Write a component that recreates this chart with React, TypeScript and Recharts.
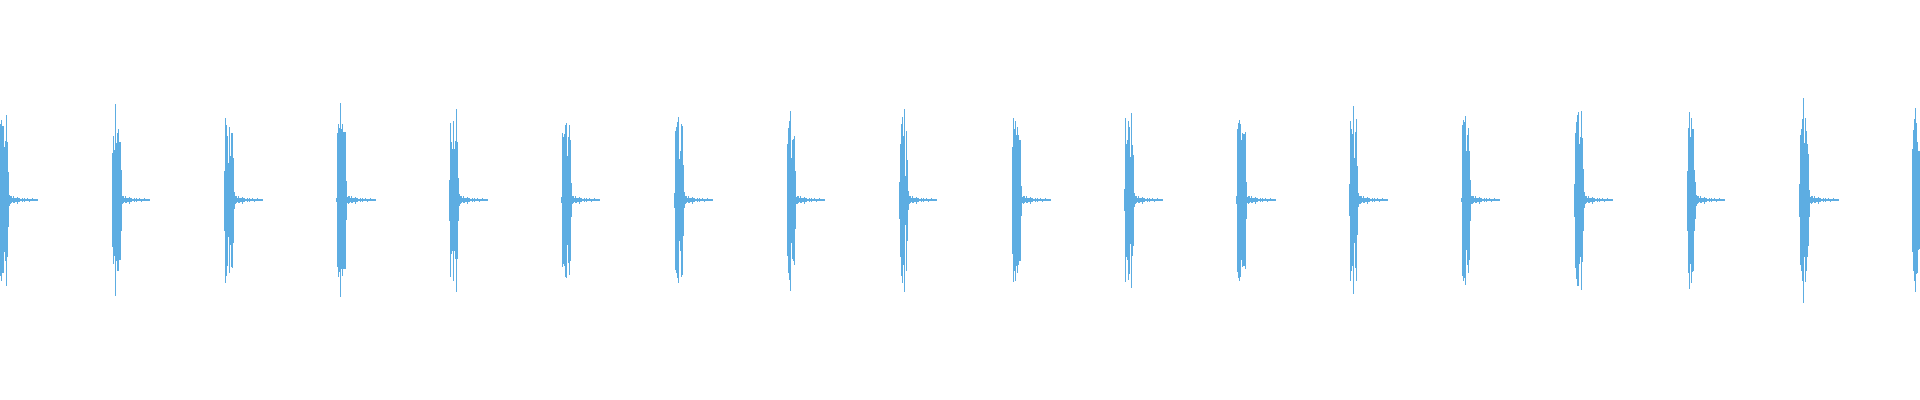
import React from 'react';
import { BarChart, Bar, XAxis, YAxis } from 'recharts';

// waveform: one sample column per pixel, amplitude in % of full scale
const SAMPLE_COUNT = 1920;
const WAVE_COLOR = '#5dade2';

// column where each click/burst begins
const BURST_STARTS = [0, 112, 224, 336, 449, 561, 674, 787, 899, 1012, 1124, 1236, 1349, 1461, 1574, 1687, 1799, 1912];

// positive peaks of each burst body
const BURST_TOPS = [
  [38, 40, 37, 37, 26.5, 29.5, 42.5, 29, 14, 2.5],
  [23.5, 32, 25, 48, 28.5, 33.5, 35.5, 29, 29, 15],
  [14.5, 41, 37.5, 32, 18.5, 36.5, 22, 33.5, 33.5, 21, 4],
  [1, 33.5, 38, 36, 48.5, 35.5, 38, 34, 34, 34, 9.5, 1.5],
  [10, 38.5, 29, 25.5, 39.5, 25.5, 29.5, 45.5, 29, 11, 3],
  [1.5, 33.5, 31.5, 33, 37.5, 38.5, 22, 31.5, 37.5, 30, 8.5],
  [3.5, 34.5, 36.5, 39, 41.5, 20.5, 24.5, 38, 37, 17.5, 4],
  [28, 36, 39.5, 44.5, 21, 30, 30.5, 32, 14.5, 1.5],
  [9, 28, 38, 41.5, 32, 45.5, 12, 34.5, 20, 4.5],
  [26.5, 41, 35.5, 39.5, 32.5, 36.5, 32.5, 30, 30, 7, 1.5],
  [5.5, 41, 28, 30, 39.5, 36.5, 21.5, 43.5, 27.5, 22.5, 3.5],
  [2, 35.5, 38.5, 40, 38, 30, 33.5, 33, 33, 34, 9, 1.5],
  [8, 39.5, 35.5, 33, 47, 21, 34, 40.5, 17, 3.5, 2],
  [1, 37.5, 40, 39, 42, 24.5, 32.5, 36, 24.5, 10, 2],
  [8, 33.5, 39, 42.5, 44, 28, 31.5, 44.5, 31, 15.5, 4],
  [14.5, 36, 44, 31.5, 41, 35.5, 35.5, 15, 9, 2.5],
  [8, 32.5, 35.5, 40.5, 51, 28.5, 41, 34.5, 28, 23, 5, 1.5],
  [25.5, 35, 40.5, 46, 38.5, 29, 24.5, 24.5],
];

// negative peaks of each burst body (magnitude)
const BURST_BOTTOMS = [
  [38, 40.5, 36.5, 36.5, 26, 30.5, 43, 28.5, 13.5, 3],
  [23.5, 32, 28, 48, 30.5, 35.5, 35.5, 30, 30, 15.5],
  [15.5, 41.5, 38, 33, 18.5, 36.5, 22.5, 33.5, 34, 21.5, 4.5],
  [1, 33.5, 38.5, 36, 48.5, 34.5, 38, 34.5, 34.5, 34.5, 10, 1.5],
  [10.5, 38.5, 27, 25.5, 40.5, 25.5, 29.5, 46, 29.5, 10.5, 3],
  [1.5, 33.5, 32, 33, 38.5, 39, 22.5, 31.5, 37.5, 30.5, 8.5],
  [4, 35, 36.5, 39, 41.5, 20.5, 25.5, 38.5, 37.5, 18, 4],
  [28, 36.5, 40, 45.5, 21.5, 29.5, 30.5, 32.5, 14.5, 2],
  [9.5, 28.5, 38, 41.5, 32.5, 46, 12.5, 35.5, 20.5, 5],
  [27, 41, 35.5, 40.5, 33, 36.5, 32.5, 30.5, 30.5, 8, 1.5],
  [5.5, 41, 28.5, 30, 40, 37, 22, 44, 28, 23, 3.5],
  [2, 36, 39, 40.5, 38.5, 30, 33.5, 33, 33, 34.5, 9.5, 1.5],
  [8, 40.5, 35.5, 33, 47, 21.5, 34, 40.5, 17.5, 3.5, 2],
  [1, 38, 40.5, 39, 42.5, 25, 32.5, 36.5, 30, 10.5, 2],
  [8.5, 34, 39.5, 43, 43, 32, 28.5, 45, 31, 15.5, 4],
  [15.5, 36.5, 44.5, 32, 41.5, 36, 35.5, 15.5, 9.5, 3],
  [8.5, 32.5, 35.5, 40.5, 51.5, 28.5, 41, 35.5, 28.5, 23, 8.5, 1.5],
  [26, 35.5, 40.5, 46, 37, 36.5, 25, 24.5],
];

// decaying ring after every burst
const TAIL_TOP = [2.2, 1.8, 1.2, 1.8, 1.2, 1, 1, 1.5, 0.8, 1, 0.5, 0.5, 0.8, 0.5, 1, 0.5, 0.5, 0.8, 0.5, 0.5, 0.5, 0.5, 0.8, 0.5, 0.5, 0.5, 0.5, 0.5];
const TAIL_BOTTOM = [2, 1.5, 1.2, 1.5, 1.5, 0.8, 0.8, 2, 0.8, 0.8, 0.5, 0.5, 0.8, 0.5, 0.8, 0.5, 0.5, 0.5, 0.5, 0.8, 0.5, 0.5, 0.5, 0.5, 0.5, 0.5, 0.5, 0.5];

const buildWave = () => {
  const rows: { i: number; range: [number, number] | null }[] = [];
  for (let i = 0; i < SAMPLE_COUNT; i++) rows.push({ i, range: null });
  BURST_STARTS.forEach((start, b) => {
    const top = [...BURST_TOPS[b], ...TAIL_TOP];
    const bottom = [...BURST_BOTTOMS[b], ...TAIL_BOTTOM];
    top.forEach((t, k) => {
      const idx = start + k;
      if (idx < SAMPLE_COUNT) rows[idx].range = [-bottom[k], t];
    });
  });
  return rows;
};

const waveData = buildWave();

export default function App() {
  return (
    <div style={{ position: 'absolute', left: 0, top: 0, width: 1920, height: 400, background: '#fff' }}>
      <BarChart
        width={1920}
        height={400}
        data={waveData}
        margin={{ top: 0, right: 0, bottom: 0, left: 0 }}
        barCategoryGap={0}
        barGap={0}
      >
        <XAxis dataKey="i" hide />
        <YAxis hide domain={[-100, 100]} allowDataOverflow />
        <Bar
          dataKey="range"
          fill={WAVE_COLOR}
          barSize={1}
          shapeRendering="crispEdges"
          isAnimationActive={false}
        />
      </BarChart>
    </div>
  );
}
